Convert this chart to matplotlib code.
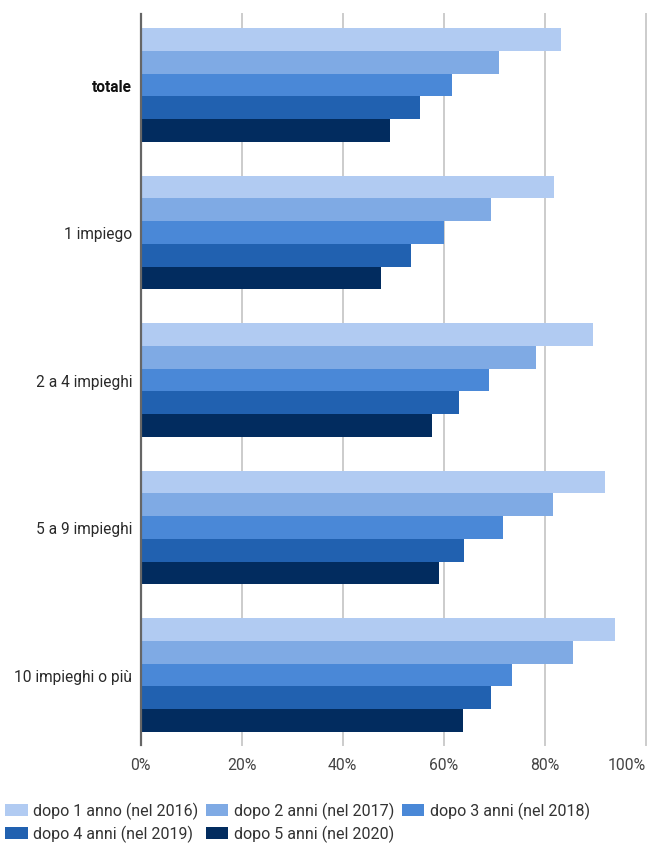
import numpy as np
import matplotlib.pyplot as plt
from matplotlib.patches import Patch

plt.rcParams['font.family'] = ['Roboto', 'DejaVu Sans']

categories = ['totale', '1 impiego', '2 a 4 impieghi', '5 a 9 impieghi', '10 impieghi o più']
series_labels = [
    'dopo 1 anno (nel 2016)', 'dopo 2 anni (nel 2017)', 'dopo 3 anni (nel 2018)',
    'dopo 4 anni (nel 2019)', 'dopo 5 anni (nel 2020)',
]
# share (%) per category, one list per series
dopo_1 = [83.2, 81.8, 89.5, 91.9, 93.9]
dopo_2 = [70.9, 69.3, 78.2, 81.6, 85.6]
dopo_3 = [61.6, 60.0, 68.9, 71.7, 73.5]
dopo_4 = [55.3, 53.5, 63.0, 64.0, 69.3]
dopo_5 = [49.3, 47.6, 57.7, 59.1, 63.8]
xticks = [0, 20, 40, 60, 80, 100]

colors = ['#b1cbf2', '#7faae4', '#4a88d7', '#2161b0', '#022c5f']
series = [dopo_1, dopo_2, dopo_3, dopo_4, dopo_5]

fig = plt.figure(figsize=(6.49, 8.45), dpi=100)
ax = fig.add_axes([140.5 / 649, 1 - 746 / 845, (646 - 140.5) / 649, (746 - 15) / 845])

y = np.arange(len(categories))
group_h = 0.77
bar_h = group_h / len(series)
for i, (vals, col) in enumerate(zip(series, colors)):
    offs = -group_h / 2 + bar_h * (i + 0.5)
    ax.barh(y + offs, vals, height=bar_h, color=col, linewidth=0, zorder=2)

ax.set_ylim(4.475, -0.481)
ax.set_xlim(0, 100)
ax.set_xticks(xticks)
ax.set_xticklabels([f'{t}%' for t in xticks])
ax.set_yticks(y)
ax.set_yticklabels(categories)

ax.grid(axis='x', color='#cccccc', linewidth=1.4, zorder=0)
for gl in ax.get_xgridlines():
    gl.set_clip_on(False)
ax.set_axisbelow(True)

for side in ['top', 'right', 'bottom']:
    ax.spines[side].set_visible(False)
ax.spines['left'].set_color('#666666')
ax.spines['left'].set_linewidth(1.6)
ax.spines['left'].set_zorder(3)

ax.tick_params(axis='both', length=0)
ax.tick_params(axis='x', pad=9, labelsize=11.3, labelcolor='#444444')
ax.tick_params(axis='y', pad=6, labelsize=11.2, labelcolor='#2a2a2a')
ax.get_xticklabels()[-1].set_horizontalalignment('right')
ax.get_yticklabels()[0].set_fontweight('bold')
ax.get_yticklabels()[0].set_color('#111111')

handles = [Patch(facecolor=c, edgecolor='none') for c in colors]
# column-major fill: reorder so rows read 1-2-3 / 4-5
order = [0, 3, 1, 4, 2]
fig.legend([handles[i] for i in order], [series_labels[i] for i in order],
           loc='upper left', bbox_to_anchor=(5 / 649, 1 - 803 / 845), ncol=3,
           frameon=False, fontsize=11.5, labelcolor='#333333',
           handlelength=1.42, handleheight=0.85, handletextpad=0.35,
           columnspacing=0.45, labelspacing=0.36, borderaxespad=0, borderpad=0)

fig.savefig('out.png', dpi=100)
